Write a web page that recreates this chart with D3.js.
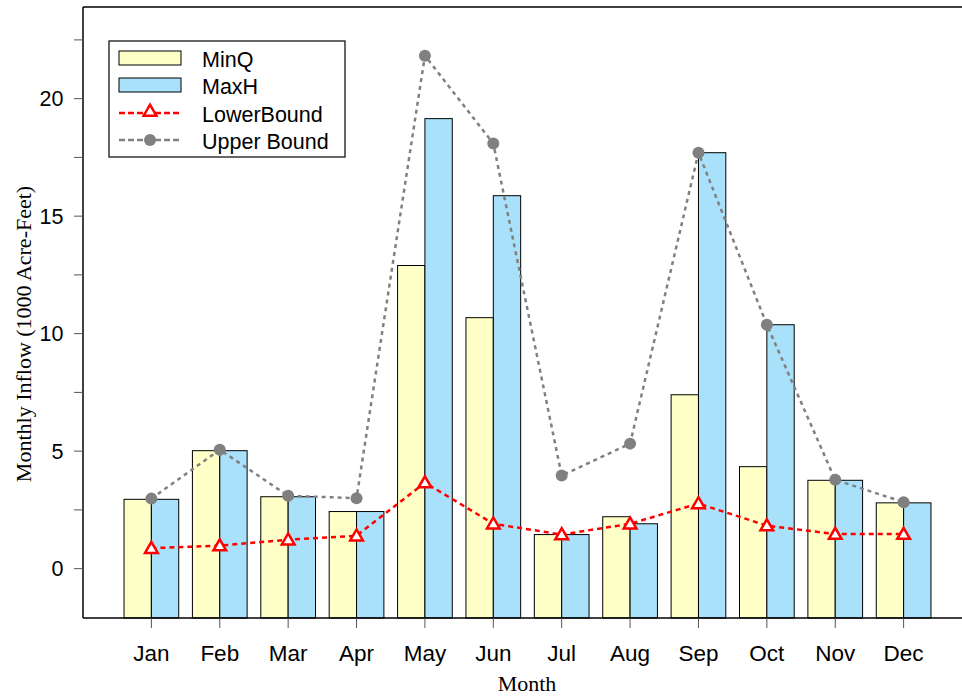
<!DOCTYPE html>
<html>
<head>
<style>
  body { margin: 0; background: #fff; }
  svg { display: block; }
</style>
</head>
<body>
<svg width="962" height="698"></svg>
<script src="https://d3js.org/d3.v7.min.js"></script>
<script>
    const months = ["Jan", "Feb", "Mar", "Apr", "May", "Jun", "Jul", "Aug", "Sep", "Oct", "Nov", "Dec"];
    const minQ = [2.95, 5.02, 3.06, 2.43, 12.9, 10.68, 1.45, 2.21, 7.4, 4.34, 3.76, 2.8];
    const maxH = [2.95, 5.02, 3.06, 2.43, 19.15, 15.87, 1.45, 1.91, 17.7, 10.38, 3.76, 2.8];
    const lowerBound = [0.87, 0.98, 1.23, 1.4, 3.66, 1.91, 1.45, 1.91, 2.77, 1.83, 1.47, 1.47];
    const upperBound = [2.98, 5.06, 3.1, 3.0, 21.83, 18.09, 3.96, 5.32, 17.7, 10.38, 3.78, 2.83];
    const yTicks = [0, 5, 10, 15, 20];
    const yMinor = [2.5, 7.5, 12.5, 17.5, 22.5];

    const svg = d3.select("svg");
    const plotLeft = 83, plotRight = 972, plotTop = 7, plotBottom = 618;

    const x = d3.scalePoint().domain(months).range([plotLeft, plotRight]).padding(1);
    const y = d3.scaleLinear().domain([-2.1, 23.9]).range([plotBottom, plotTop]);
    const barW = x.step() * 0.4;

    const sans = "'Liberation Sans', Arial, Helvetica, sans-serif";
    const serif = "'Liberation Serif', 'Times New Roman', serif";

    // bars
    const g = svg.append("g");
    g.selectAll(".minq").data(months).enter().append("rect")
        .attr("x", d => x(d) - barW)
        .attr("y", (d, i) => y(minQ[i]))
        .attr("width", barW)
        .attr("height", (d, i) => plotBottom - y(minQ[i]))
        .attr("fill", "#FFFFC8").attr("stroke", "#000").attr("stroke-width", 1);
    g.selectAll(".maxh").data(months).enter().append("rect")
        .attr("x", d => x(d))
        .attr("y", (d, i) => y(maxH[i]))
        .attr("width", barW)
        .attr("height", (d, i) => plotBottom - y(maxH[i]))
        .attr("fill", "#AAE1FA").attr("stroke", "#000").attr("stroke-width", 1);

    // frame lines
    svg.append("line").attr("x1", plotLeft).attr("x2", 962).attr("y1", plotTop).attr("y2", plotTop)
        .attr("stroke", "#000").attr("stroke-width", 1.5);
    svg.append("line").attr("x1", plotLeft).attr("x2", 962).attr("y1", plotBottom).attr("y2", plotBottom)
        .attr("stroke", "#000").attr("stroke-width", 1.5);
    svg.append("line").attr("x1", plotLeft).attr("x2", plotLeft).attr("y1", plotTop).attr("y2", plotBottom)
        .attr("stroke", "#000").attr("stroke-width", 1.5);

    // y axis ticks
    svg.selectAll(".ytick").data(yTicks.concat(yMinor)).enter().append("line")
        .attr("x1", plotLeft - 9).attr("x2", plotLeft)
        .attr("y1", d => y(d)).attr("y2", d => y(d))
        .attr("stroke", "#555").attr("stroke-width", 1);
    svg.selectAll(".ylab").data(yTicks).enter().append("text")
        .attr("x", plotLeft - 19.5).attr("y", d => y(d)).attr("dy", "0.36em")
        .attr("text-anchor", "end")
        .style("font-family", sans).style("font-size", "21.5px")
        .text(d => d);

    // x axis ticks
    svg.selectAll(".xtick").data(months).enter().append("line")
        .attr("x1", d => x(d)).attr("x2", d => x(d))
        .attr("y1", plotBottom).attr("y2", plotBottom + 10)
        .attr("stroke", "#555").attr("stroke-width", 1);
    svg.selectAll(".xlab").data(months).enter().append("text")
        .attr("x", d => x(d)).attr("y", 661)
        .attr("text-anchor", "middle")
        .style("font-family", sans).style("font-size", "22.5px")
        .text(d => d);

    // axis titles
    svg.append("text").attr("x", 527).attr("y", 691).attr("text-anchor", "middle")
        .style("font-family", serif).style("font-size", "22px").text("Month");
    svg.append("text").attr("transform", "translate(31,334) rotate(-90)")
        .attr("text-anchor", "middle")
        .style("font-family", serif).style("font-size", "22px")
        .text("Monthly Inflow (1000 Acre-Feet)");

    // lines
    const lineGen = vals => d3.line().x((d, i) => x(months[i])).y(d => y(d))(vals);
    svg.append("path").attr("d", lineGen(upperBound))
        .attr("fill", "none").attr("stroke", "#808080").attr("stroke-width", 2.5)
        .attr("stroke-dasharray", "4,4");
    svg.append("path").attr("d", lineGen(lowerBound))
        .attr("fill", "none").attr("stroke", "#FF0000").attr("stroke-width", 2.5)
        .attr("stroke-dasharray", "5,4");

    const tri = d3.symbol().type(d3.symbolTriangle).size(70);
    svg.selectAll(".ub").data(upperBound).enter().append("circle")
        .attr("cx", (d, i) => x(months[i])).attr("cy", d => y(d)).attr("r", 6)
        .attr("fill", "#808080");
    svg.selectAll(".lb").data(lowerBound).enter().append("path")
        .attr("d", tri)
        .attr("transform", (d, i) => "translate(" + x(months[i]) + "," + (y(d) + 1) + ")")
        .attr("fill", "#fff").attr("stroke", "#FF0000").attr("stroke-width", 2.5);

    // legend
    const lg = svg.append("g");
    lg.append("rect").attr("x", 109).attr("y", 41).attr("width", 236).attr("height", 116)
        .attr("fill", "#fff").attr("stroke", "#000").attr("stroke-width", 1.2);
    const labels = ["MinQ", "MaxH", "LowerBound", "Upper Bound"];
    const rowY = [58, 85, 113, 140];
    const textY = [59, 86, 114, 141];
    lg.append("rect").attr("x", 119).attr("y", 51).attr("width", 62).attr("height", 14)
        .attr("fill", "#FFFFC8").attr("stroke", "#000").attr("stroke-width", 1);
    lg.append("rect").attr("x", 119).attr("y", 78).attr("width", 62).attr("height", 14)
        .attr("fill", "#AAE1FA").attr("stroke", "#000").attr("stroke-width", 1);
    lg.append("line").attr("x1", 119).attr("x2", 181).attr("y1", rowY[2]).attr("y2", rowY[2])
        .attr("stroke", "#FF0000").attr("stroke-width", 2.5).attr("stroke-dasharray", "6,3");
    lg.append("path").attr("d", tri)
        .attr("transform", "translate(150," + (rowY[2] - 1) + ")")
        .attr("fill", "#fff").attr("stroke", "#FF0000").attr("stroke-width", 2.5);
    lg.append("line").attr("x1", 119).attr("x2", 181).attr("y1", rowY[3]).attr("y2", rowY[3])
        .attr("stroke", "#808080").attr("stroke-width", 2.5).attr("stroke-dasharray", "6,3");
    lg.append("circle").attr("cx", 150).attr("cy", rowY[3]).attr("r", 6).attr("fill", "#808080");
    lg.selectAll(".lt").data(labels).enter().append("text")
        .attr("x", 202).attr("y", (d, i) => textY[i]).attr("dy", "0.36em")
        .style("font-family", sans).style("font-size", "21.5px")
        .text(d => d);
</script>
</body>
</html>
